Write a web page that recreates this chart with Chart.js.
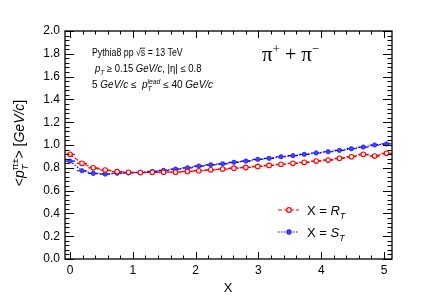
<!DOCTYPE html>
<html>
<head>
<meta charset="utf-8">
<script src="https://cdn.jsdelivr.net/npm/chart.js@4.4.0/dist/chart.umd.min.js"></script>
<style>
  html, body { margin: 0; padding: 0; background: #fff; }
  #wrap { width: 436px; height: 305px; }
</style>
</head>
<body>
<div id="wrap"><canvas id="myChart" width="436" height="305"></canvas></div>
<script>
// valores
var xVals = [0, 0.19, 0.37, 0.56, 0.75, 0.93, 1.12, 1.31, 1.49, 1.68, 1.87, 2.05, 2.24, 2.43,
             2.61, 2.8, 2.99, 3.17, 3.36, 3.55, 3.73, 3.92, 4.11, 4.29, 4.48, 4.67, 4.85, 5.04];
var xErr = 0.08; // meia largura da barra horizontal
var rtVals = [0.918, 0.839, 0.800, 0.780, 0.766, 0.760, 0.758, 0.760, 0.762, 0.762, 0.768, 0.774, 0.782, 0.789,
              0.797, 0.803, 0.812, 0.821, 0.831, 0.839, 0.848, 0.859, 0.868, 0.883, 0.897, 0.918, 0.903, 0.927];
var stVals = [0.859, 0.774, 0.751, 0.745, 0.752, 0.756, 0.760, 0.768, 0.777, 0.789, 0.800, 0.815, 0.826, 0.835,
              0.848, 0.859, 0.874, 0.883, 0.897, 0.906, 0.918, 0.930, 0.941, 0.953, 0.967, 0.982, 1.000, 1.009];
var xTicks = [0, 1, 2, 3, 4, 5];
var yTicks = [0, 0.2, 0.4, 0.6, 0.8, 1.0, 1.2, 1.4, 1.6, 1.8, 2.0];

var FONT = '"Liberation Sans", Arial, sans-serif';

function pts(xs, ys) {
    var out = [];
    for (var i = 0; i < xs.length; i++) out.push({x: xs[i], y: ys[i]});
    return out;
}

// texto com italico, indices e expoentes
function rich(ctx, x, y, segs, size, draw) {
    var cx = x, stackW = 0;
    for (var i = 0; i < segs.length; i++) {
        var s = segs[i];
        var fs = (s.sub || s.sup) ? size * 0.68 : size;
        ctx.font = (s.it ? 'italic ' : '') + fs + 'px ' + FONT;
        var dy = s.sub ? size * 0.3 : (s.sup ? -size * 0.42 : 0);
        var w = ctx.measureText(s.t).width;
        if (draw) {
            ctx.fillText(s.t, cx, y + dy);
            if (s.over) {
                ctx.beginPath();
                ctx.lineWidth = 0.8;
                ctx.moveTo(cx - 1, y - size * 0.78);
                ctx.lineTo(cx + w, y - size * 0.78);
                ctx.stroke();
            }
        }
        if (s.stack) {
            stackW = Math.max(stackW, w);
        } else {
            cx += Math.max(w, stackW);
            stackW = 0;
        }
    }
    return cx - x;
}

// barras de erro horizontais
var barsPlugin = {
    id: 'bars',
    beforeDatasetsDraw: function(chart) {
        var ctx = chart.ctx, sx = chart.scales.x, sy = chart.scales.y;
        ctx.save();
        chart.data.datasets.forEach(function(ds) {
            ctx.strokeStyle = ds.borderColor;
            ctx.lineWidth = 1.2;
            ctx.beginPath();
            ds.data.forEach(function(p) {
                var py = sy.getPixelForValue(p.y);
                ctx.moveTo(Math.max(sx.getPixelForValue(p.x - xErr), chart.chartArea.left), py);
                ctx.lineTo(sx.getPixelForValue(p.x + xErr), py);
            });
            ctx.stroke();
        });
        ctx.restore();
    }
};

var framePlugin = {
    id: 'frame',
    afterDraw: function(chart) {
        var ctx = chart.ctx, a = chart.chartArea;
        var sx = chart.scales.x, sy = chart.scales.y;
        ctx.save();
        ctx.strokeStyle = '#000';
        ctx.fillStyle = '#000';
        ctx.lineWidth = 1.3;
        ctx.strokeRect(a.left, a.top, a.right - a.left, a.bottom - a.top);

        // marcas do eixo y
        ctx.lineWidth = 1;
        ctx.beginPath();
        for (var k = 0; k <= 50; k++) {
            var v = k * 0.04;
            var py = Math.round(sy.getPixelForValue(v)) + 0.5;
            var len = (k % 5 === 0) ? 9 : 4.5;
            ctx.moveTo(a.left, py); ctx.lineTo(a.left + len, py);
            ctx.moveTo(a.right, py); ctx.lineTo(a.right - len, py);
        }
        // marcas do eixo x
        for (var j = 0; j <= 25; j++) {
            var xv = j * 0.2;
            var px = Math.round(sx.getPixelForValue(xv)) + 0.5;
            var l2 = (j % 5 === 0) ? 7 : 3.5;
            ctx.moveTo(px, a.bottom); ctx.lineTo(px, a.bottom - l2);
            ctx.moveTo(px, a.top); ctx.lineTo(px, a.top + l2);
        }
        ctx.stroke();

        // titulos dos eixos
        ctx.textBaseline = 'alphabetic';
        ctx.font = '13px ' + FONT;
        ctx.textAlign = 'center';
        ctx.fillText('X', 228, 292);
        ctx.textAlign = 'left';

        var ySegs = [{t: '<'}, {t: 'p', it: 1}, {t: 'T', it: 1, sub: 1, stack: 1}, {t: 'π±', sup: 1},
                     {t: '> ['}, {t: 'GeV/c', it: 1}, {t: ']'}];
        var w = rich(ctx, 0, 0, ySegs, 14, false);
        ctx.save();
        ctx.translate(24, 143);
        ctx.rotate(-Math.PI / 2);
        rich(ctx, -w / 2, 0, ySegs, 14, true);
        ctx.restore();

        // textos dentro do grafico
        ctx.save();
        ctx.translate(92, 56);
        ctx.scale(0.88, 1);
        rich(ctx, 0, 0, [{t: 'Pythia8 pp '}, {t: '√'}, {t: 's', over: 1}, {t: ' = 13 TeV'}], 10, true);
        ctx.restore();
        ctx.save();
        ctx.translate(95, 72);
        ctx.scale(0.95, 1);
        rich(ctx, 0, 0, [{t: 'p', it: 1}, {t: 'T', it: 1, sub: 1}, {t: ' ≥ 0.15 '}, {t: 'GeV/c', it: 1},
                         {t: ', |η| ≤ 0.8'}], 10, true);
        ctx.restore();
        rich(ctx, 92, 88, [{t: '5 '}, {t: 'GeV/c', it: 1}, {t: ' ≤  '}, {t: 'p', it: 1},
                           {t: 'T', it: 1, sub: 1, stack: 1}, {t: 'lead', it: 1, sup: 1}, {t: ' ≤ 40 '},
                           {t: 'GeV/c', it: 1}], 10, true);

        var SERIF = '"Liberation Serif", "DejaVu Serif", serif';
        var pi = 'π';
        ctx.font = '21px ' + SERIF;
        ctx.fillText(pi, 262, 61);
        var x0 = 262 + ctx.measureText(pi).width;
        ctx.font = '13px ' + SERIF;
        ctx.fillText('+', x0, 53);
        x0 += ctx.measureText('+').width;
        ctx.font = '20px ' + SERIF;
        ctx.fillText(' + ', x0, 61);
        x0 += ctx.measureText(' + ').width;
        ctx.font = '21px ' + SERIF;
        ctx.fillText(pi, x0, 61);
        x0 += ctx.measureText(pi).width;
        ctx.font = '13px ' + SERIF;
        ctx.fillText('−', x0, 53);

        // legenda
        var ds = chart.data.datasets;
        var ly = [210, 232];
        for (var d = 0; d < ds.length; d++) {
            var y0 = ly[d];
            ctx.save();
            ctx.strokeStyle = ds[d].borderColor;
            ctx.lineWidth = 1.2;
            ctx.setLineDash(ds[d].borderDash);
            ctx.beginPath();
            ctx.moveTo(278, y0); ctx.lineTo(299, y0);
            ctx.stroke();
            ctx.setLineDash([]);
            ctx.beginPath();
            ctx.arc(289, y0, ds[d].pointRadius, 0, Math.PI * 2);
            ctx.fillStyle = ds[d].pointBackgroundColor;
            ctx.fill();
            ctx.strokeStyle = ds[d].pointBorderColor;
            ctx.stroke();
            ctx.restore();
            ctx.fillStyle = '#000';
            rich(ctx, 307, y0 + 5, [{t: 'X = '}, {t: d === 0 ? 'R' : 'S', it: 1}, {t: 'T', it: 1, sub: 1}], 13, true);
        }
        ctx.restore();
    }
};

var ctx = document.getElementById('myChart').getContext('2d');
var myChart = new Chart(ctx, {
    type: 'scatter',
    data: {
        datasets: [{
            label: 'X = R_T',
            data: pts(xVals, rtVals),
            showLine: true,
            borderColor: '#ff0000',
            borderWidth: 1.2,
            borderDash: [4, 2],
            pointRadius: 2.3,
            pointBorderWidth: 1.1,
            pointBorderColor: '#ff0000',
            pointBackgroundColor: '#ffffff'
        }, {
            label: 'X = S_T',
            data: pts(xVals, stVals),
            showLine: true,
            borderColor: '#0000ff',
            borderWidth: 1.2,
            borderDash: [1.5, 1.5],
            pointRadius: 2.1,
            pointBorderWidth: 1,
            pointBorderColor: '#2222ff',
            pointBackgroundColor: '#4444ff'
        }]
    },
    options: {
        responsive: false,
        animation: false,
        layout: { padding: { top: 31, right: 44, left: 0, bottom: 0 } },
        plugins: { legend: { display: false }, tooltip: { enabled: false } },
        scales: {
            x: {
                type: 'linear',
                min: -0.08,
                max: 5.127,
                grid: { display: false, drawTicks: false },
                border: { display: false },
                afterBuildTicks: function(s) { s.ticks = xTicks.map(function(v) { return {value: v}; }); },
                afterFit: function(s) { s.height = 46; },
                ticks: {
                    padding: 4,
                    color: '#000',
                    font: { family: FONT, size: 12 },
                    maxRotation: 0,
                    callback: function(v) { return String(v); }
                }
            },
            y: {
                min: 0,
                max: 2,
                grid: { display: false, drawTicks: false },
                border: { display: false },
                afterBuildTicks: function(s) { s.ticks = yTicks.map(function(v) { return {value: v}; }); },
                afterFit: function(s) { s.width = 65; },
                ticks: {
                    padding: 5,
                    color: '#000',
                    font: { family: FONT, size: 12 },
                    callback: function(v) { return Number(v).toFixed(1); }
                }
            }
        }
    },
    plugins: [barsPlugin, framePlugin]
});
</script>
</body>
</html>
